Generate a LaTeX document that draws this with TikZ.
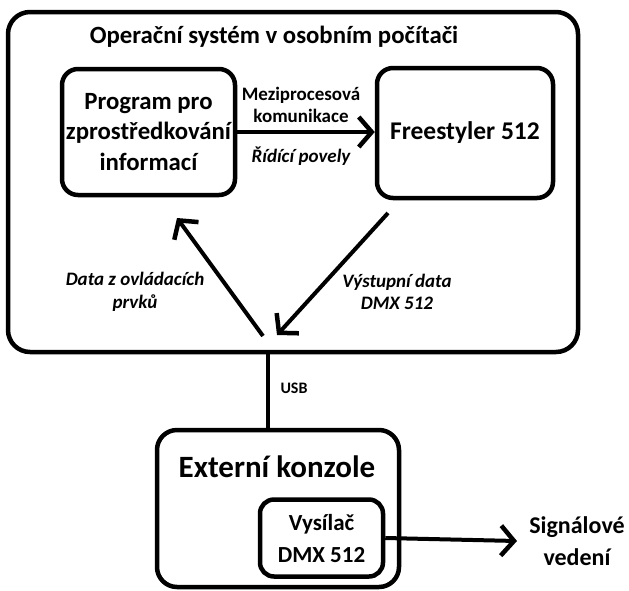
\documentclass[tikz,border=0pt]{standalone}
\usepackage{fontspec}
\setmainfont{Carlito}
\usetikzlibrary{arrows.meta}

\begin{document}
\begin{tikzpicture}[x=1pt,y=-1pt,
    box/.style={draw,line width=4.5pt,rounded corners=16pt,inner sep=0pt,align=center},
    arr/.style={line width=4pt,-{Straight Barb[length=13pt,width=30pt,line width=4.5pt]}},
    lbl/.style={align=center,font=\bfseries\fontsize{19}{22.5}\selectfont},
    ilbl/.style={align=center,font=\bfseries\itshape\fontsize{19}{22.5}\selectfont}]
  \useasboundingbox (0,0) rectangle (629,590);
  % osobni pocitac
  \node[box,minimum width=570pt,minimum height=340pt,rounded corners=22pt] (pc) at (293,182) {};
  \node[font=\bfseries\fontsize{24.8}{28}\selectfont] (pctitle) at (274,37) {Operační systém v osobním počítači};
  \node[box,minimum width=173pt,minimum height=126pt,font=\bfseries\fontsize{24.8}{30.5}\selectfont] (prog) at (148.5,132) {Program pro\\zprostředkování\\informací};
  \node[box,minimum width=176pt,minimum height=130pt,font=\bfseries\fontsize{25.5}{30}\selectfont] (free) at (465,133) {Freestyler 512};
  \draw[arr] (prog.east) -- (prog.east -| free.west);
  \node[lbl] (mezi) at (301,105) {Meziprocesová\\komunikace};
  \node[ilbl] (ridici) at (301,156) {Řídící povely};
  % data mezi pocitacem a konzoli
  \coordinate (outstart) at (388,213);
  \coordinate (outend) at (277,335);
  \coordinate (instart) at (263,336);
  \coordinate (inend) at (177,218);
  \draw[arr] (outstart) -- (outend);
  \draw[arr] (instart) -- (inend);
  \node[ilbl] (data) at (135,292) {Data z ovládacích\\prvků};
  \node[ilbl] (vystup) at (397,292) {Výstupní data\\DMX 512};
  % externi konzole
  \node[box,minimum width=242pt,minimum height=157pt,rounded corners=20pt] (ext) at (278,508.5) {};
  \node[font=\bfseries\fontsize{31}{34}\selectfont] (exttitle) at (277,467) {Externí konzole};
  \node[box,minimum width=123pt,minimum height=77pt,rounded corners=14pt,font=\bfseries\fontsize{23}{32}\selectfont] (vys) at (321.5,538) {Vysílač\\DMX 512};
  \node[font=\bfseries\fontsize{24}{32}\selectfont,align=center] (sig) at (577,541) {Signálové\\vedení};
  \draw[arr] (vys.east) -- (sig.west -| 517,0);
  % usb
  \coordinate (usb) at (268,352);
  \draw[line width=4pt] (usb) -- (usb |- ext.north);
  \node[font=\bfseries\fontsize{16}{18}\selectfont] (usblbl) at (294,388) {USB};
\end{tikzpicture}
\end{document}
